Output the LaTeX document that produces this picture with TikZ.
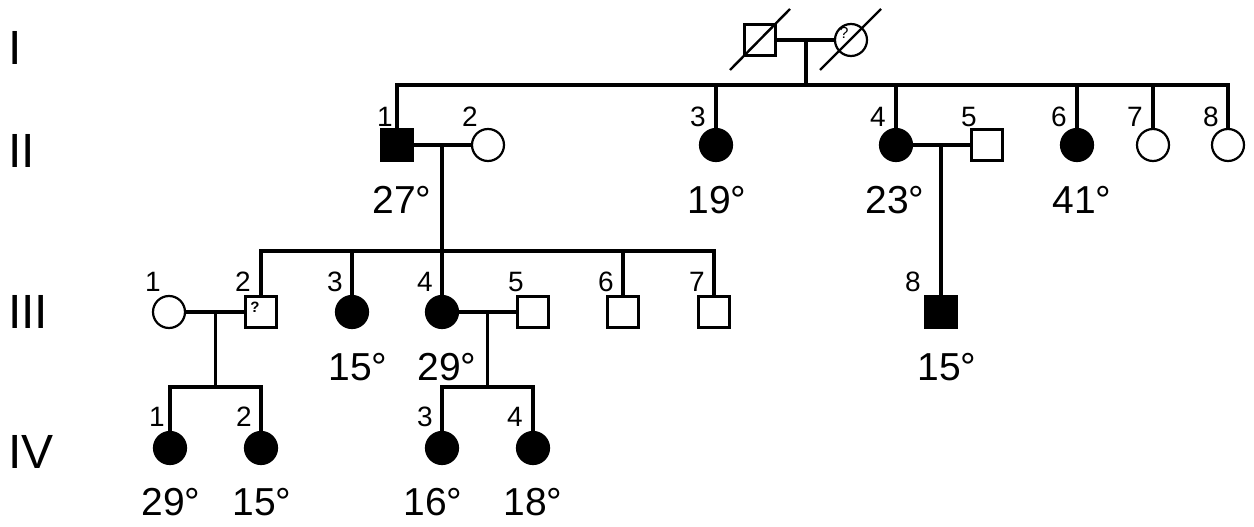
\documentclass[tikz,border=0pt]{standalone}
\usepackage{fontspec}
\setmainfont{Liberation Sans}
\begin{document}
\begin{tikzpicture}[x=1pt,y=-1pt,
  male/.style={draw, rectangle, minimum size=31pt, inner sep=0pt, line width=2.2pt},
  female/.style={draw, circle, minimum size=32pt, inner sep=0pt, line width=2.2pt},
  aff/.style={fill=black},
  num/.style={font=\fontsize{28}{28}\selectfont, inner sep=0pt},
  age/.style={font=\fontsize{39}{39}\selectfont, inner sep=0pt},
  gen/.style={font=\fontsize{48}{48}\selectfont, inner sep=0pt, anchor=west},
  qm/.style={font=\fontsize{16}{16}\selectfont, inner sep=0pt},
  rel/.style={line width=3.2pt}]
\useasboundingbox (0,0) rectangle (1254,527);
% generation labels
\node[gen] (gI) at (8,47.5) {I};
\node[gen] (gII) at (8,150.5) {II};
\node[gen] (gIII) at (8,311.5) {III};
\node[gen] (gIV) at (8,451.5) {IV};
% generation I
\node[male] (I1) at (760,40) {};
\node[female] (I2) at (851,40) {};
\node[qm] (q1) at (844,33) {?};
\draw[line width=2.4pt] (I1.center) ++(-30,30) coordinate (s1a) -- ++(60,-61) coordinate (s1b);
\draw[line width=2.4pt] (I2.center) ++(-31,30) coordinate (s2a) -- ++(61,-61) coordinate (s2b);
% generation II
\node[male,aff] (II1) at (397,145) {};
\node[female] (II2) at (488,145) {};
\node[female,aff] (II3) at (716,145) {};
\node[female,aff] (II4) at (896,145) {};
\node[male] (II5) at (987,145) {};
\node[female,aff] (II6) at (1077,145) {};
\node[female] (II7) at (1153,145) {};
\node[female] (II8) at (1228,145) {};
% generation III
\node[female] (III1) at (169,312) {};
\node[male] (III2) at (261,312) {};
\node[qm,font=\bfseries\fontsize{15}{15}\selectfont] (q2) at (255,307) {?};
\node[female,aff] (III3) at (352,312) {};
\node[female,aff] (III4) at (442,312) {};
\node[male] (III5) at (533,312) {};
\node[male] (III6) at (623,312) {};
\node[male] (III7) at (714,312) {};
\node[male,aff] (III8) at (941,312) {};
% generation IV
\node[female,aff] (IV1) at (170,448) {};
\node[female,aff] (IV2) at (261,448) {};
\node[female,aff] (IV3) at (442,448) {};
\node[female,aff] (IV4) at (533,448) {};
% connectors
\coordinate (sibI) at (0,85);
\coordinate (sibII) at (0,251);
\coordinate (sibIII) at (0,387);
\draw[rel] (I1.east) -- (I2.west);
\coordinate (mI) at (806,40);
\draw[rel] (mI) -- (mI |- sibI);
\draw[rel,line cap=rect] (II1.north |- sibI) -- (II8.north |- sibI);
\foreach \n in {II1,II3,II4,II6,II7,II8} \draw[rel] (\n.north) -- (\n.north |- sibI);
\draw[rel] (II1.east) -- (II2.west);
\coordinate (mII) at (442,145);
\draw[rel] (mII) -- (mII |- sibII);
\draw[rel,line cap=rect] (III2.north |- sibII) -- (III7.north |- sibII);
\foreach \n in {III2,III3,III4,III6,III7} \draw[rel] (\n.north) -- (\n.north |- sibII);
\draw[rel] (II4.east) -- (II5.west);
\coordinate (mII2) at (941,145);
\draw[rel] (mII2) -- (III8.north);
\draw[rel] (III1.east) -- (III2.west);
\coordinate (mIII1) at (215.5,312);
\draw[rel] (mIII1) -- (mIII1 |- sibIII);
\draw[rel,line cap=rect] (IV1.north |- sibIII) -- (IV2.north |- sibIII);
\draw[rel] (IV1.north) -- (IV1.north |- sibIII);
\draw[rel] (IV2.north) -- (IV2.north |- sibIII);
\draw[rel] (III4.east) -- (III5.west);
\coordinate (mIII2) at (487.5,312);
\draw[rel] (mIII2) -- (mIII2 |- sibIII);
\draw[rel,line cap=rect] (IV3.north |- sibIII) -- (IV4.north |- sibIII);
\draw[rel] (IV3.north) -- (IV3.north |- sibIII);
\draw[rel] (IV4.north) -- (IV4.north |- sibIII);
% numbers
\node[num] (nII1) at (385,117) {1};
\node[num] (nII2) at (470,117) {2};
\node[num] (nII3) at (698,117) {3};
\node[num] (nII4) at (878,117) {4};
\node[num] (nII5) at (969,117) {5};
\node[num] (nII6) at (1059,117) {6};
\node[num] (nII7) at (1135,117) {7};
\node[num] (nII8) at (1211,117) {8};
\node[num] (nIII1) at (153,282) {1};
\node[num] (nIII2) at (243,282) {2};
\node[num] (nIII3) at (335,282) {3};
\node[num] (nIII4) at (425,282) {4};
\node[num] (nIII5) at (516,282) {5};
\node[num] (nIII6) at (606,282) {6};
\node[num] (nIII7) at (697,282) {7};
\node[num] (nIII8) at (913,282) {8};
\node[num] (nIV1) at (157,417) {1};
\node[num] (nIV2) at (244,417) {2};
\node[num] (nIV3) at (425,417) {3};
\node[num] (nIV4) at (515,417) {4};
% ages
\node[age] (aII1) at (402,200) {27°};
\node[age] (aII3) at (717,200) {19°};
\node[age] (aII4) at (895,200) {23°};
\node[age] (aII6) at (1082,200) {41°};
\node[age] (aIII3) at (358,367) {15°};
\node[age] (aIII4) at (447,367) {29°};
\node[age] (aIII8) at (947,367) {15°};
\node[age] (aIV1) at (171,502) {29°};
\node[age] (aIV2) at (262,502) {15°};
\node[age] (aIV3) at (433,502) {16°};
\node[age] (aIV4) at (533,502) {18°};
\end{tikzpicture}
\end{document}
